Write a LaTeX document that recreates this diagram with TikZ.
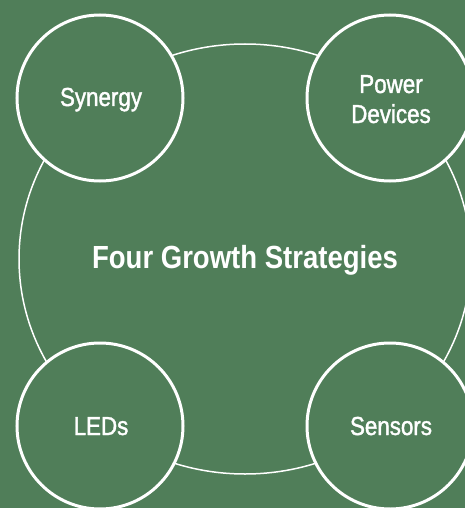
\documentclass[tikz,border=0pt]{standalone}
\usepackage{fontspec}
\setmainfont[FakeStretch=0.86]{Liberation Sans}
\newfontfamily\lblfont[FakeStretch=0.86,FakeBold=1.5]{Liberation Sans}
\definecolor{bggreen}{RGB}{80,126,89}
\tikzset{
  bubble/.style={circle, draw=white, line width=3pt, fill=bggreen, minimum size=166pt, inner sep=0pt},
  lbl/.style={text=white, anchor=base, inner sep=0pt, font=\lblfont\fontsize{26}{30}\selectfont, align=center},
  title/.style={text=white, anchor=base, inner sep=0pt, font=\fontsize{32}{36}\selectfont\bfseries}
}
\begin{document}
\begin{tikzpicture}[x=1pt,y=-1pt]
\useasboundingbox (0,0) rectangle (465,508);
\fill[bggreen] (0,0) rectangle (465,508);
\clip (0,0) rectangle (465,508);
\draw[white, line width=1.5pt] (245,259) ellipse [x radius=226, y radius=215];
\node[bubble] (syn) at (100,98) {};
\node[bubble] (pow) at (390,98) {};
\node[bubble] (led) at (100,426) {};
\node[bubble] (sen) at (390,426) {};
\node[lbl] (tsyn) at (101,106) {Synergy};
\node[lbl] (tpow) at (391,123) {Power\\Devices};
\node[lbl] (tled) at (101,435) {LEDs};
\node[lbl] (tsen) at (391,435) {Sensors};
\node[title] (ttl) at (245,268) {Four Growth Strategies};
\end{tikzpicture}
\end{document}
